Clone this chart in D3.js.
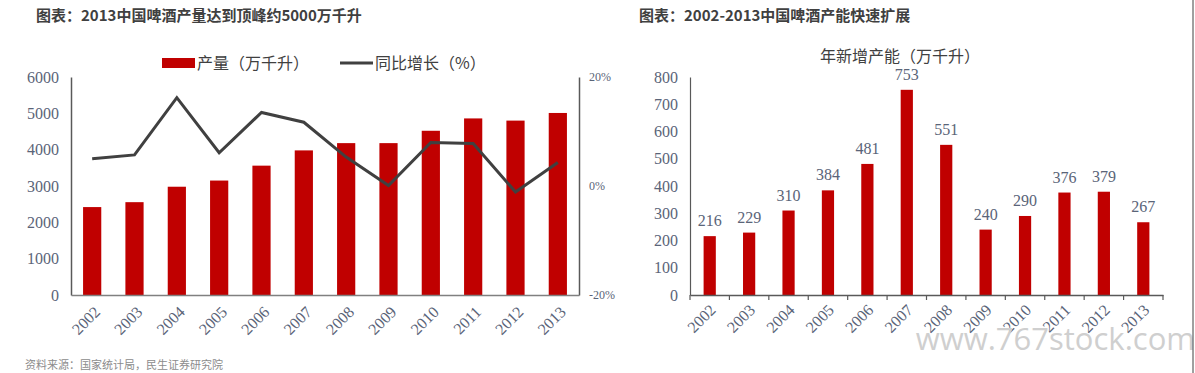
<!DOCTYPE html>
<html>
<head>
<meta charset="utf-8">
<script src="https://cdn.jsdelivr.net/npm/d3@7"></script>
<style>
  body { margin: 0; background: #fff; }
  svg { display: block; }
  .title { font-family: 'Noto Sans CJK SC', sans-serif; font-weight: bold; font-size: 15px; fill: #404040; }
  .tick-label { font-family: 'Liberation Serif', serif; font-size: 16px; fill: #5a6478; }
  .cjk { font-family: 'Noto Sans CJK SC', sans-serif; fill: #404040; }
</style>
</head>
<body>
<div id="chart"></div>
<script>
var years = ['2002', '2003', '2004', '2005', '2006', '2007', '2008', '2009', '2010', '2011', '2012', '2013'];
var output = [2420, 2555, 2980, 3150, 3560, 3980, 4180, 4180, 4520, 4860, 4800, 5010];
var growth = [5.0, 5.7, 16.2, 6.1, 13.5, 11.7, 5.3, 0.1, 8.0, 7.8, -1.1, 4.3];
var newCapacity = [216, 229, 310, 384, 481, 753, 551, 240, 290, 376, 379, 267];
var leftTicks = [0, 1000, 2000, 3000, 4000, 5000, 6000];
var rightTicks = [-20, 0, 20];
var capTicks = [0, 100, 200, 300, 400, 500, 600, 700, 800];

var red = '#c00000';
var axisColor = '#595959';

var svg = d3.select('#chart')
  .append('svg')
  .attr('width', 1195)
  .attr('height', 373);

// ---- left chart: output + yoy growth
var left = { x0: 71, x1: 579, top: 77, bottom: 295 };

var xL = d3.scaleBand()
  .domain(years)
  .range([left.x0, left.x1])
  .paddingInner(0.57)
  .paddingOuter(0.285);

var yL = d3.scaleLinear().domain([0, 6000]).range([left.bottom, left.top]);
var yR = d3.scaleLinear().domain([-20, 20]).range([left.bottom, left.top]);

svg.append('text')
  .attr('class', 'title')
  .attr('x', 36)
  .attr('y', 21)
  .text('图表：2013中国啤酒产量达到顶峰约5000万千升');

svg.append('g')
  .selectAll('rect')
  .data(output)
  .enter()
  .append('rect')
  .attr('x', function(d, i) { return xL(years[i]); })
  .attr('y', function(d) { return yL(d); })
  .attr('width', xL.bandwidth())
  .attr('height', function(d) { return left.bottom - yL(d); })
  .attr('fill', red);

var line = d3.line()
  .x(function(d, i) { return xL(years[i]) + xL.bandwidth() / 2; })
  .y(function(d) { return yR(d); });

svg.append('path')
  .datum(growth)
  .attr('d', line)
  .attr('fill', 'none')
  .attr('stroke', '#404040')
  .attr('stroke-width', 3);

var axisL = svg.append('g')
  .attr('transform', 'translate(' + left.x0 + ',0)')
  .call(d3.axisLeft(yL).tickValues(leftTicks).tickSize(0).tickPadding(12).tickFormat(d3.format('d')));
axisL.select('.domain').attr('stroke', axisColor).attr('stroke-width', 1.5);
axisL.selectAll('text').attr('class', 'tick-label').attr('font-family', null).attr('font-size', null);

var axisR = svg.append('g')
  .attr('transform', 'translate(' + left.x1 + ',0)')
  .call(d3.axisRight(yR).tickValues(rightTicks).tickSize(0).tickPadding(10)
    .tickFormat(function(d) { return d + '%'; }));
axisR.select('.domain').attr('stroke', axisColor).attr('stroke-width', 1.5);
axisR.selectAll('text').attr('class', 'tick-label').attr('font-family', null).attr('font-size', null)
  .style('font-size', '12px');

var axisBL = svg.append('g')
  .attr('transform', 'translate(0,' + left.bottom + ')')
  .call(d3.axisBottom(xL).tickSize(0).tickPadding(0));
axisBL.select('.domain').attr('stroke', '#808080').attr('stroke-width', 1.5);
axisBL.selectAll('text')
  .attr('class', 'tick-label').attr('font-family', null).attr('font-size', null)
  .attr('text-anchor', 'end')
  .attr('dy', null)
  .attr('transform', 'translate(9,18) rotate(-45)');

// legend
svg.append('rect').attr('x', 162).attr('y', 58).attr('width', 33).attr('height', 10).attr('fill', red);
svg.append('text').attr('class', 'cjk').attr('x', 197).attr('y', 69).style('font-size', '16px').text('产量（万千升）');
svg.append('line').attr('x1', 340).attr('x2', 373).attr('y1', 63).attr('y2', 63)
  .attr('stroke', '#404040').attr('stroke-width', 3);
svg.append('text').attr('class', 'cjk').attr('x', 375).attr('y', 69).style('font-size', '16px').text('同比增长（%）');

svg.append('text')
  .attr('x', 25)
  .attr('y', 369)
  .style('font-family', "'Noto Sans CJK SC', sans-serif")
  .style('font-size', '11px')
  .attr('fill', '#8c8c8c')
  .text('资料来源：国家统计局，民生证券研究院');

// ---- right chart: new capacity
var right = { x0: 690, x1: 1163, top: 77, bottom: 295 };

var xC = d3.scaleBand()
  .domain(years)
  .range([right.x0, right.x1])
  .paddingInner(0.69)
  .paddingOuter(0.345);

var yC = d3.scaleLinear().domain([0, 800]).range([right.bottom, right.top]);

svg.append('text')
  .attr('class', 'title')
  .attr('x', 639)
  .attr('y', 21)
  .text('图表：2002-2013中国啤酒产能快速扩展');

svg.append('text')
  .attr('class', 'cjk')
  .attr('x', 900)
  .attr('y', 62)
  .attr('text-anchor', 'middle')
  .style('font-size', '16px')
  .text('年新增产能（万千升）');

svg.append('g')
  .selectAll('rect')
  .data(newCapacity)
  .enter()
  .append('rect')
  .attr('x', function(d, i) { return xC(years[i]); })
  .attr('y', function(d) { return yC(d); })
  .attr('width', xC.bandwidth())
  .attr('height', function(d) { return right.bottom - yC(d); })
  .attr('fill', red);

svg.append('g')
  .selectAll('text')
  .data(newCapacity)
  .enter()
  .append('text')
  .attr('class', 'tick-label')
  .attr('x', function(d, i) { return xC(years[i]) + xC.bandwidth() / 2; })
  .attr('y', function(d) { return yC(d) - 10; })
  .attr('text-anchor', 'middle')
  .text(function(d) { return d; });

var axisC = svg.append('g')
  .attr('transform', 'translate(' + right.x0 + ',0)')
  .call(d3.axisLeft(yC).tickValues(capTicks).tickSize(0).tickPadding(12));
axisC.select('.domain').attr('stroke', axisColor).attr('stroke-width', 1.2);
axisC.selectAll('text').attr('class', 'tick-label').attr('font-family', null).attr('font-size', null);

var axisCB = svg.append('g')
  .attr('transform', 'translate(0,' + right.bottom + ')')
  .call(d3.axisBottom(xC).tickSize(0).tickPadding(0));
axisCB.select('.domain').attr('stroke', axisColor).attr('stroke-width', 1.5);
axisCB.selectAll('text')
  .attr('class', 'tick-label').attr('font-family', null).attr('font-size', null)
  .attr('text-anchor', 'end')
  .attr('dy', null)
  .attr('transform', 'translate(7,16) rotate(-45)');

// category boundary ticks
var step = xC.step();
axisCB.append('g')
  .selectAll('line')
  .data(d3.range(years.length + 1))
  .enter()
  .append('line')
  .attr('x1', function(d) { return right.x0 + d * step; })
  .attr('x2', function(d) { return right.x0 + d * step; })
  .attr('y1', 0)
  .attr('y2', 5)
  .attr('stroke', axisColor)
  .attr('stroke-width', 1.2);

// watermark and edge line
svg.append('text')
  .attr('x', 1195)
  .attr('y', 350)
  .attr('text-anchor', 'end')
  .style('font-family', "'Open Sans', sans-serif")
  .style('font-size', '31px')
  .attr('fill', '#cfcfcf')
  .text('www.767stock.com');

svg.append('line')
  .attr('x1', 1193).attr('x2', 1193)
  .attr('y1', 0).attr('y2', 373)
  .attr('stroke', '#404040')
  .attr('stroke-width', 1);
</script>
</body>
</html>
